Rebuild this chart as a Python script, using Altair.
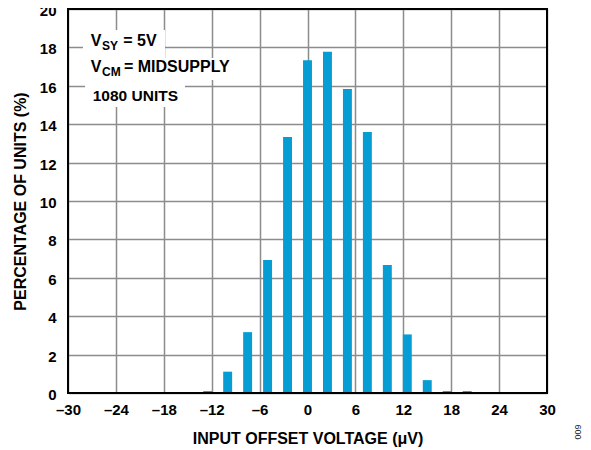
import altair as alt
import pandas as pd

# ---- data ----
bin_centers = [-12.5, -10, -7.5, -5, -2.5, 0, 2.5, 5, 7.5, 10, 12.5, 15, 17.5, 20]
percent_units = [0.1, 1.11, 3.17, 6.93, 13.33, 17.33, 17.77, 15.83, 13.6, 6.67, 3.05, 0.67, 0.1, 0.1]
x_ticks = [-30, -24, -18, -12, -6, 0, 6, 12, 18, 24, 30]
y_ticks = [0, 2, 4, 6, 8, 10, 12, 14, 16, 18, 20]

W, H = 479, 384
FONT = "Liberation Sans"
BAR_HALF = 0.56

df = pd.DataFrame({"center": bin_centers, "pct": percent_units})
one = pd.DataFrame({"k": [0]})

xscale = alt.Scale(domain=[-30, 30], nice=False, zero=False, padding=0)
yscale = alt.Scale(domain=[0, 20], nice=False, padding=0)

bars = (
    alt.Chart(df)
    .transform_calculate(lo=f"datum.center - {BAR_HALF}", hi=f"datum.center + {BAR_HALF}")
    .mark_rect(color="#069CD4")
    .encode(
        x=alt.X(
            "lo:Q",
            scale=xscale,
            axis=alt.Axis(
                values=x_ticks,
                title="INPUT OFFSET VOLTAGE (μV)",
                labelExpr="datum.value < 0 ? '–' + abs(datum.value) : datum.label",
                labelPadding=9,
                labelFlush=False,
                labelOverlap=False,
                titleX=W / 2,
                titleY=45,
                titleBaseline="middle",
                titleAlign="center",
            ),
        ),
        x2="hi:Q",
        y=alt.Y(
            "pct:Q",
            scale=yscale,
            axis=alt.Axis(
                values=y_ticks,
                title="PERCENTAGE OF UNITS (%)",
                labelPadding=12,
                labelOffset=1.5,
                labelFlush=False,
                labelOverlap=False,
                titleX=-48,
                titleY=H / 2,
                titleAngle=270,
                titleBaseline="middle",
                titleAlign="center",
            ),
        ),
        y2=alt.datum(0),
    )
)

layers = [bars]

# white backgrounds behind the annotation lines
for x0, x1, y0, y1 in [(15, 97, 21, 49), (15, 172, 49, 71), (17, 117, 71, 98)]:
    layers.append(
        alt.Chart(one).mark_rect(fill="white").encode(
            x=alt.value(x0), x2=alt.value(x1), y=alt.value(y0), y2=alt.value(y1)
        )
    )

def txt(s, x, y, size, weight="bold", angle=0, color="black"):
    return alt.Chart(one).mark_text(
        text=s, align="left" if angle == 0 else "center",
        baseline="alphabetic" if angle == 0 else "middle",
        font=FONT, fontSize=size, fontWeight=weight, color=color, angle=angle,
    ).encode(x=alt.value(x), y=alt.value(y))

layers += [
    txt("V", 22.7, 37, 16),
    txt("SY", 34, 41, 12),
    txt("= 5V", 55.3, 37, 16),
    txt("V", 22.7, 62.7, 16),
    txt("CM", 34, 66.7, 12),
    txt("= MIDSUPPLY", 56, 62.7, 16),
    txt("1080 UNITS", 24.7, 92, 15.5),
    txt("009", 509.5, 423, 9, weight="normal", angle=270, color="#222222"),
]

# plot frame
layers.append(
    alt.Chart(one).mark_rect(fill=None, stroke="black", strokeWidth=2).encode(
        x=alt.value(0), x2=alt.value(W), y=alt.value(0), y2=alt.value(H)
    )
)

chart = (
    alt.layer(*layers)
    .properties(
        width=W,
        height=H,
        autosize=alt.AutoSizeParams(type="none"),
        padding={"left": 60, "top": 1, "right": 36, "bottom": 55},
        background="white",
    )
    .configure_view(stroke=None)
    .configure_axis(
        labelFont=FONT,
        labelFontSize=15,
        labelFontWeight="bold",
        labelColor="black",
        titleFont=FONT,
        titleFontSize=16,
        titleFontWeight="bold",
        titleColor="black",
        ticks=False,
        tickSize=0,
        domain=False,
        grid=True,
        gridColor="#8c8c8c",
        gridWidth=1.5,
        gridOpacity=1,
    )
)

chart.save("out.html", embed_options={"renderer": "svg", "actions": False})
